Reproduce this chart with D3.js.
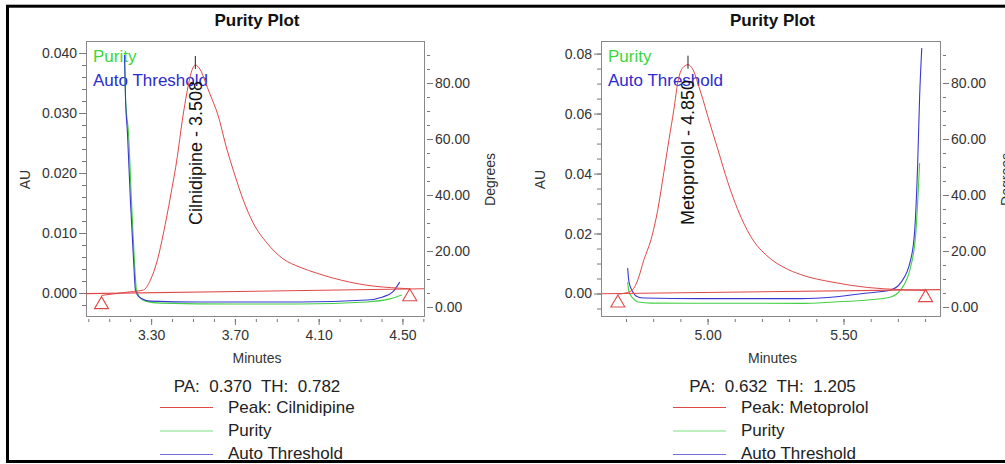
<!DOCTYPE html>
<html>
<head>
<meta charset="utf-8">
<script src="https://cdn.jsdelivr.net/npm/d3@7"></script>
<style>
body { margin: 0; background: #fff; }
svg text { font-family: "Liberation Sans", Arial, sans-serif; }
</style>
</head>
<body>
<div id="vis"></div>
<script>
const FRAME_WIDTH = 1005;
const FRAME_HEIGHT = 464;

// ---- left panel: Cilnidipine ----
const cilName = "Cilnidipine";
const cilRT = "3.508";
const cilPA = "0.370";
const cilTH = "0.782";
const cilTimeTicks = [3.30, 3.70, 4.10, 4.50];
const cilAuTicks = [0.000, 0.010, 0.020, 0.030, 0.040];
const cilPeakTime = [3.063, 3.200, 3.263, 3.297, 3.330, 3.359, 3.392, 3.425, 3.449, 3.473, 3.492, 3.511, 3.535, 3.568,
                     3.592, 3.616, 3.663, 3.692, 3.740, 3.787, 3.854, 3.930, 4.011, 4.092, 4.168, 4.330, 4.487, 4.535];
const cilPeakAU = [-0.0004, 0.0002, 0.0005, 0.0022, 0.0055, 0.0100, 0.0160, 0.0227, 0.0288, 0.0338, 0.0368, 0.0380, 0.0372, 0.0343,
                   0.0322, 0.0300, 0.0238, 0.0205, 0.0155, 0.0117, 0.0083, 0.0057, 0.0043, 0.0033, 0.0025, 0.0013, 0.0008, 0.0007];
const cilPurityTime = [3.173, 3.178, 3.192, 3.206, 3.220, 3.230, 3.244, 3.273, 3.344, 3.700, 4.011, 4.330, 4.440, 4.497];
const cilPurityDeg = [90.0, 73.9, 62.1, 38.2, 16.8, 6.1, 3.6, 2.1, 1.4, 1.1, 1.1, 1.8, 2.9, 4.3];
const cilThreshTime = [3.173, 3.178, 3.187, 3.201, 3.216, 3.225, 3.235, 3.249, 3.297, 3.535, 4.011, 4.330, 4.406, 4.454, 4.487];
const cilThreshDeg = [90.0, 73.9, 62.1, 38.2, 16.8, 6.1, 4.3, 3.2, 2.1, 1.8, 1.8, 2.5, 3.6, 5.4, 8.9];
const cilBaseTime = [2.989, 4.603];
const cilBaseAU = [-0.0001, 0.0007];
const cilMarkTime = [3.063, 4.535];
const cilMarkAU = [-0.0006, 0.0007];

// ---- right panel: Metoprolol ----
const metName = "Metoprolol";
const metRT = "4.850";
const metPA = "0.632";
const metTH = "1.205";
const metTimeTicks = [5.00, 5.50];
const metAuTicks = [0.00, 0.02, 0.04, 0.06, 0.08];
const metPeakTime = [4.670, 4.700, 4.725, 4.744, 4.766, 4.792, 4.817, 4.839, 4.858, 4.876, 4.891, 4.909, 4.928, 4.946,
                     4.968, 4.983, 5.001, 5.038, 5.075, 5.111, 5.159, 5.222, 5.281, 5.343, 5.465, 5.589, 5.710, 5.802];
const metPeakAU = [-0.0002, 0.0002, 0.0013, 0.0047, 0.0113, 0.0180, 0.0280, 0.0403, 0.0513, 0.0613, 0.0707, 0.0753, 0.0763, 0.0747,
                   0.0690, 0.0647, 0.0590, 0.0480, 0.0370, 0.0280, 0.0190, 0.0123, 0.0087, 0.0063, 0.0037, 0.0020, 0.0013, 0.0010];
const metPurityTime = [4.706, 4.711, 4.725, 4.744, 4.792, 5.343, 5.465, 5.589, 5.674, 5.710, 5.747, 5.766, 5.780];
const metPurityDeg = [8.9, 5.4, 3.2, 1.8, 1.4, 1.3, 1.8, 2.5, 3.6, 6.1, 14.3, 26.4, 51.4];
const metThreshTime = [4.706, 4.711, 4.725, 4.744, 4.766, 4.975, 5.343, 5.465, 5.589, 5.674, 5.710, 5.747, 5.762, 5.773, 5.780, 5.788];
const metThreshDeg = [13.9, 8.9, 5.4, 3.6, 3.2, 3.0, 3.0, 3.6, 5.0, 6.1, 8.6, 16.8, 27.5, 51.4, 75.0, 92.5];
const metBaseTime = [4.608, 5.855];
const metBaseAU = [-0.0001, 0.0013];
const metMarkTime = [4.670, 5.802];
const metMarkAU = [-0.0005, 0.0013];

// shared right axis
const degTicks = [0, 20, 40, 60, 80];

const RED = "#e04848";
const GREEN = "#44d044";
const BLUE = "#3838d0";

const FRAME = d3.select("#vis")
                .append("svg")
                .attr("width", FRAME_WIDTH)
                .attr("height", FRAME_HEIGHT);

// outer black frame
FRAME.append("rect")
     .attr("x", 7.5).attr("y", 6.2)
     .attr("width", 1010).attr("height", 455.3)
     .attr("fill", "none")
     .attr("stroke", "#000")
     .attr("stroke-width", 3);

function style_axis(g) {
  g.select(".domain").remove();
  g.selectAll(".tick line").attr("stroke", "#777");
  g.selectAll(".tick text").attr("fill", "#333").attr("font-size", "14px");
}

function draw_panel(p) {
  const B = p.box;
  const X = d3.scaleLinear().domain(p.xDomain).range([B.left, B.right]);
  const Y = d3.scaleLinear().domain(p.auDomain).range([B.bottom, B.top]);
  const D = d3.scaleLinear().domain([-3.21, 95]).range([B.bottom, B.top]);
  const g = FRAME.append("g");
  const cx = (B.left + B.right) / 2 + 2;

  // title
  g.append("text").attr("x", cx).attr("y", 26)
   .attr("text-anchor", "middle").attr("font-size", "17px")
   .attr("font-weight", "bold").attr("fill", "#111").text("Purity Plot");

  // axes: AU left
  g.append("g").attr("transform", `translate(${B.left},0)`)
   .call(d3.axisLeft(Y).tickValues(p.auMinor).tickSize(4).tickFormat(""))
   .call(style_axis);
  g.append("g").attr("transform", `translate(${B.left},0)`)
   .call(d3.axisLeft(Y).tickValues(p.auTicks).tickSize(7).tickPadding(2).tickFormat(d3.format(p.auFormat)))
   .call(style_axis);

  // degrees right
  g.append("g").attr("transform", `translate(${B.right + 3},0)`)
   .call(d3.axisRight(D).tickValues(d3.range(0, 91, 5)).tickSize(3).tickFormat(""))
   .call(style_axis);
  g.append("g").attr("transform", `translate(${B.right + 3},0)`)
   .call(d3.axisRight(D).tickValues(degTicks).tickSize(6).tickPadding(2).tickFormat(d3.format(".2f")))
   .call(style_axis);

  // time bottom
  g.append("g").attr("transform", `translate(0,${B.bottom + 3})`)
   .call(d3.axisBottom(X).tickValues(p.xMinor).tickSize(3).tickFormat(""))
   .call(style_axis);
  g.append("g").attr("transform", `translate(0,${B.bottom + 3})`)
   .call(d3.axisBottom(X).tickValues(p.xTicks).tickSize(6).tickPadding(5).tickFormat(d3.format(".2f")))
   .call(style_axis);

  // plot box
  g.append("rect")
   .attr("x", B.left + 0.5).attr("y", B.top + 0.5)
   .attr("width", B.right - B.left).attr("height", B.bottom - B.top)
   .attr("fill", "none").attr("stroke", "#888").attr("stroke-width", 1);

  // axis titles
  g.append("text").attr("transform", `translate(${B.left - 56},${(B.top + B.bottom) / 2 + 1}) rotate(-90)`)
   .attr("text-anchor", "middle").attr("font-size", "14px").attr("fill", "#333").text("AU");
  g.append("text").attr("transform", `translate(${B.right + 71},${(B.top + B.bottom) / 2 + 1}) rotate(-90)`)
   .attr("text-anchor", "middle").attr("font-size", "14px").attr("fill", "#333").text("Degrees");
  g.append("text").attr("x", cx).attr("y", 363)
   .attr("text-anchor", "middle").attr("font-size", "14px").attr("fill", "#333").text("Minutes");

  // in-plot legend
  g.append("text").attr("x", B.left + 7).attr("y", 62)
   .attr("font-size", "17px").attr("fill", "#3ad83a").text("Purity");
  g.append("text").attr("x", B.left + 7).attr("y", 86)
   .attr("font-size", "17px").attr("fill", "#2b2bd0").text("Auto Threshold");

  const lineAU = d3.line().x((d) => X(d[0])).y((d) => Y(d[1])).curve(d3.curveMonotoneX);
  const lineDeg = d3.line().x((d) => X(d[0])).y((d) => D(d[1])).curve(d3.curveMonotoneX);

  const clipId = "clip" + p.id;
  g.append("clipPath").attr("id", clipId).append("rect")
   .attr("x", B.left).attr("y", B.top).attr("width", B.right - B.left + 1).attr("height", B.bottom - B.top + 1);
  const plot = g.append("g").attr("clip-path", `url(#${clipId})`);

  plot.append("path").datum(d3.zip(p.purityTime, p.purityDeg))
      .attr("d", lineDeg).attr("fill", "none").attr("stroke", GREEN).attr("stroke-width", 1.1);
  plot.append("path").datum(d3.zip(p.threshTime, p.threshDeg))
      .attr("d", lineDeg).attr("fill", "none").attr("stroke", BLUE).attr("stroke-width", 1.1);
  plot.append("path").datum(d3.zip(p.baseTime, p.baseAU))
      .attr("d", d3.line().x((d) => X(d[0])).y((d) => Y(d[1])))
      .attr("fill", "none").attr("stroke", RED).attr("stroke-width", 1.1);
  plot.append("path").datum(d3.zip(p.peakTime, p.peakAU))
      .attr("d", lineAU).attr("fill", "none").attr("stroke", RED).attr("stroke-width", 1);

  // start / end triangles
  plot.selectAll(".mark")
      .data(d3.zip(p.markTime, p.markAU))
      .enter()
      .append("path")
        .attr("transform", (d) => `translate(${X(d[0])},${Y(d[1])})`)
        .attr("d", "M0,0 L7,12 L-7,12 Z")
        .attr("fill", "none").attr("stroke", RED).attr("stroke-width", 1.1);

  // apex tick and label
  const iMax = d3.maxIndex(p.peakAU);
  const ax = X(p.peakTime[iMax]);
  const ay = Y(p.peakAU[iMax]);
  g.append("line").attr("x1", ax).attr("x2", ax).attr("y1", ay - 9).attr("y2", ay + 4)
   .attr("stroke", "#222").attr("stroke-width", 1);
  g.append("text").attr("transform", `translate(${ax + 6.5},225) rotate(-90)`)
   .attr("font-size", "18px").attr("fill", "#111").text(`${p.name} - ${p.rt}`);

  // PA / TH line
  g.append("text").attr("x", cx).attr("y", 392)
   .attr("text-anchor", "middle").attr("font-size", "17px").attr("fill", "#222")
   .attr("xml:space", "preserve").style("white-space", "pre")
   .text(`PA:  ${p.pa}  TH:  ${p.th}`);

  // bottom legend
  const rows = [["Peak: " + p.name, RED], ["Purity", "#7ee07e"], ["Auto Threshold", "#7070d8"]];
  const lg = g.append("g");
  lg.selectAll("line").data(rows).enter().append("line")
    .attr("x1", p.legendX).attr("x2", p.legendX + 53)
    .attr("y1", (d, i) => 407.5 + i * 23.5).attr("y2", (d, i) => 407.5 + i * 23.5)
    .attr("stroke", (d) => d[1]).attr("stroke-width", 1.2);
  lg.selectAll("text").data(rows).enter().append("text")
    .attr("x", p.legendX + 68).attr("y", (d, i) => 413 + i * 23)
    .attr("font-size", "17px").attr("fill", "#222").text((d) => d[0]);
}

draw_panel({
  id: 1, name: cilName, rt: cilRT, pa: cilPA, th: cilTH,
  box: {left: 86, right: 424, top: 41, bottom: 316},
  xDomain: [2.989, 4.603], auDomain: [-0.00383, 0.042],
  xTicks: cilTimeTicks, xMinor: d3.range(3.0, 4.61, 0.1),
  auTicks: cilAuTicks, auMinor: d3.range(-0.002, 0.0401, 0.002), auFormat: ".3f",
  peakTime: cilPeakTime, peakAU: cilPeakAU,
  purityTime: cilPurityTime, purityDeg: cilPurityDeg,
  threshTime: cilThreshTime, threshDeg: cilThreshDeg,
  baseTime: cilBaseTime, baseAU: cilBaseAU,
  markTime: cilMarkTime, markAU: cilMarkAU,
  legendX: 160
});

draw_panel({
  id: 2, name: metName, rt: metRT, pa: metPA, th: metTH,
  box: {left: 601, right: 940, top: 41, bottom: 316},
  xDomain: [4.608, 5.855], auDomain: [-0.0075, 0.0842],
  xTicks: metTimeTicks, xMinor: d3.range(4.7, 5.81, 0.1),
  auTicks: metAuTicks, auMinor: d3.range(-0.005, 0.0801, 0.005), auFormat: ".2f",
  peakTime: metPeakTime, peakAU: metPeakAU,
  purityTime: metPurityTime, purityDeg: metPurityDeg,
  threshTime: metThreshTime, threshDeg: metThreshDeg,
  baseTime: metBaseTime, baseAU: metBaseAU,
  markTime: metMarkTime, markAU: metMarkAU,
  legendX: 673
});
</script>
</body>
</html>
